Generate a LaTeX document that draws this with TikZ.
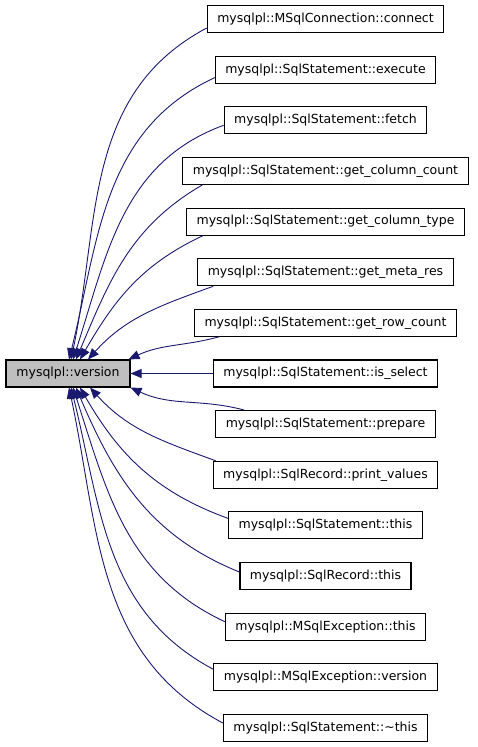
\documentclass[tikz,border=0pt]{standalone}
\usepackage{fontspec}
\setmainfont{DejaVu Sans}
\usetikzlibrary{arrows.meta}
\definecolor{edgeblue}{HTML}{191970}
\definecolor{maingray}{HTML}{BFBFBF}

\begin{document}
\begin{tikzpicture}[x=1pt,y=1pt,
    fnbox/.style={draw=black,line width=1.1pt,fill=white,minimum height=27pt,inner xsep=10pt,inner ysep=0pt,font=\fontsize{12.5}{14}\selectfont},
    mainbox/.style={fnbox,fill=maingray,minimum width=124pt},
    calledge/.style={draw=edgeblue,line width=0.9pt,{Triangle[length=11pt,width=9pt]}-}]
  \useasboundingbox (0,0) rectangle (477,-747);
  \node[mainbox] (version) at (68,-373.5) {mysqlpl::version};
  \node[fnbox] (conn) at (325.5,-19) {mysqlpl::MSqlConnection::connect};
  \node[fnbox] (exec) at (325.5,-69.6) {mysqlpl::SqlStatement::execute};
  \node[fnbox] (fetch) at (325.5,-120.3) {mysqlpl::SqlStatement::fetch};
  \node[fnbox] (colcount) at (325.5,-170.9) {mysqlpl::SqlStatement::get\_column\_count};
  \node[fnbox] (coltype) at (325.5,-221.6) {mysqlpl::SqlStatement::get\_column\_type};
  \node[fnbox] (metares) at (325.5,-272.2) {mysqlpl::SqlStatement::get\_meta\_res};
  \node[fnbox] (rowcount) at (325.5,-322.8) {mysqlpl::SqlStatement::get\_row\_count};
  \node[fnbox] (issel) at (325.5,-373.5) {mysqlpl::SqlStatement::is\_select};
  \node[fnbox] (prep) at (325.5,-424.1) {mysqlpl::SqlStatement::prepare};
  \node[fnbox] (printv) at (325.5,-474.8) {mysqlpl::SqlRecord::print\_values};
  \node[fnbox] (stthis) at (325.5,-525.4) {mysqlpl::SqlStatement::this};
  \node[fnbox] (recthis) at (325.5,-576) {mysqlpl::SqlRecord::this};
  \node[fnbox] (exthis) at (325.5,-626.7) {mysqlpl::MSqlException::this};
  \node[fnbox] (exver) at (325.5,-677.3) {mysqlpl::MSqlException::version};
  \node[fnbox] (stdtor) at (325.5,-728) {mysqlpl::SqlStatement::\textasciitilde this};

  % callers above
  \draw[calledge] ([xshift=3pt]version.north) to[out=78,in=208] ([yshift=-9pt]conn.west);
  \draw[calledge] ([xshift=1pt]version.north) to[out=76,in=205] ([yshift=-8pt]exec.west);
  \draw[calledge] ([xshift=5pt]version.north) to[out=72,in=200] ([yshift=-5pt]fetch.west);
  \draw[calledge] ([xshift=8pt]version.north) to[out=67,in=210] ([xshift=20pt]colcount.south west);
  \draw[calledge] ([xshift=12pt]version.north) to[out=60,in=205] ([xshift=17pt]coltype.south west);
  \draw[calledge] ([xshift=20pt]version.north) to[out=48,in=200] ([xshift=16pt]metares.south west);
  \draw[calledge] ([xshift=-2pt]version.north east) to[out=25,in=195] ([xshift=25pt]rowcount.south west);
  \draw[calledge] (version.east) -- (issel.west);
  % callers below
  \draw[calledge] (version.south east) to[out=-25,in=165] ([xshift=29pt]prep.north west);
  \draw[calledge] ([xshift=22pt]version.south) to[out=-48,in=160] ([xshift=3pt]printv.north west);
  \draw[calledge] ([xshift=12pt]version.south) to[out=-60,in=160] ([yshift=7pt]stthis.west);
  \draw[calledge] ([xshift=8pt]version.south) to[out=-67,in=158] ([yshift=4pt]recthis.west);
  \draw[calledge] ([xshift=5pt]version.south) to[out=-72,in=155] ([yshift=5pt]exthis.west);
  \draw[calledge] ([xshift=3pt]version.south) to[out=-76,in=152] ([yshift=8pt]exver.west);
  \draw[calledge] ([xshift=1pt]version.south) to[out=-78,in=152] ([yshift=5pt]stdtor.west);
\end{tikzpicture}
\end{document}
